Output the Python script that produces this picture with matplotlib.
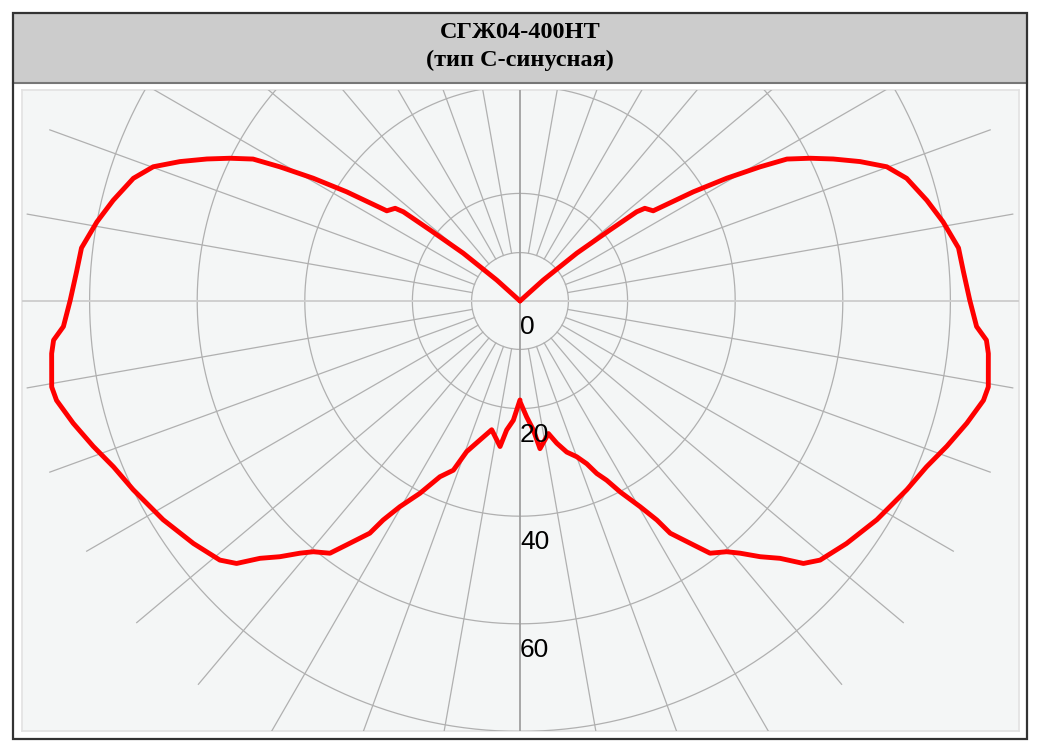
import numpy as np
import matplotlib
matplotlib.use("Agg")
import matplotlib.pyplot as plt
from matplotlib.patches import Rectangle
from matplotlib.lines import Line2D

# ---------------- data (angle from nadir in degrees, intensity) ----------------
title_line1 = "СГЖ04-400НТ"
title_line2 = "(тип С-синусная)"

left_angles = [0, 3.2, 5.9, 7.8, 12.4, 16.1, 19.5, 21.5, 24.5, 27.5, 30.3, 32.0, 32.9,
               35.4, 37.0, 39.5, 41.1, 43.2, 45.3, 47.2, 49.2, 53.4, 58.5, 64.0, 67.8,
               71.2, 74.7, 77.9, 79.6, 83.6, 85.2, 86.8, 90.1, 93.8, 96.9, 100.6, 103.9,
               107.6, 110.1, 112.3, 114.4, 116.2, 118.0, 119.2, 120.7, 122.2, 124.1,
               126.6, 127.4, 128.3, 130.1, 132.0, 135.0, 180.0]
left_values = [18.4, 22.2, 24.1, 27.3, 24.5, 26.9, 29.7, 33.8, 35.9, 40.3, 44.3, 48.0, 51.4,
               55.6, 58.7, 60.4, 62.2, 65.2, 68.0, 71.8, 73.7, 75.6, 77.8, 80.0, 81.6,
               83.8, 86.1, 88.1, 88.5, 87.6, 87.0, 85.0, 83.6, 82.6, 82.1, 80.0, 77.9,
               75.4, 72.6, 68.3, 63.9, 60.1, 56.2, 51.1, 44.7, 38.1, 29.9,
               28.9, 27.3, 21.3, 13.8, 5.8, 0.0, 0.0]

right_angles = [0, 3.3, 5.9, 7.7, 12.1, 14.5, 17.2, 20.0, 22.3, 24.0, 25.8, 27.7, 30.3, 32.0,
                32.9, 35.4, 37.0, 39.5, 41.1, 43.2, 45.3, 47.2, 49.2, 53.4, 58.5, 64.0,
                67.8, 71.2, 74.7, 77.9, 79.6, 83.6, 85.2, 86.8, 90.1, 93.8, 96.9, 100.6,
                103.9, 107.6, 110.1, 112.3, 114.4, 116.2, 118.0, 119.2, 120.7, 122.2,
                124.1, 126.6, 127.4, 128.3, 130.1, 132.0, 135.0, 180.0]
right_values = [18.7, 21.6, 24.1, 27.7, 25.2, 27.3, 29.4, 30.8, 32.7, 35.1, 37.0, 40.1, 44.3,
                48.0, 51.4, 55.6, 58.7, 60.4, 62.2, 65.2, 68.0, 71.8, 73.7, 75.6, 77.8, 80.0,
                81.6, 83.8, 86.1, 88.1, 88.5, 87.6, 87.0, 85.0, 83.6, 82.6, 82.1, 80.0,
                77.9, 75.4, 72.6, 68.3, 63.9, 60.1, 56.2, 51.1, 44.7, 38.1,
                29.9, 28.9, 27.3, 21.3, 13.8, 5.8, 0.0, 0.0]

ring_values = [20, 40, 60, 80]
ring_labels = ["0", "20", "40", "60"]
label_values = [0, 20, 40, 60]
inner_ring = 9
spoke_end = 93
spoke_step = 10

# ---------------- figure ----------------
W, H = 1040, 750
fig = plt.figure(figsize=(W / 100, H / 100), dpi=100)


def fx(px):
    return px / W


def fy(py):
    return 1 - py / H


# outer frame + title bar
fig.patches.append(Rectangle((fx(13), fy(739)), fx(1027) - fx(13), fy(13) - fy(739),
                             transform=fig.transFigure, facecolor="none",
                             edgecolor="#333333", lw=1.6, zorder=5))
fig.patches.append(Rectangle((fx(14), fy(82)), fx(1026) - fx(14), fy(14) - fy(82),
                             transform=fig.transFigure, facecolor="#cccccc",
                             edgecolor="none", zorder=1))
fig.lines.append(Line2D([fx(13), fx(1027)], [fy(83), fy(83)], transform=fig.transFigure,
                        color="#777777", lw=1.5, zorder=2))

fig.text(fx(520), fy(33), title_line1, ha="center", va="center", fontsize=17.5,
         fontweight="bold", family="Liberation Serif")
fig.text(fx(520), fy(60), title_line2, ha="center", va="center", fontsize=17.5,
         fontweight="bold", family="Liberation Serif")

# plot-area background
bg = fig.add_axes([fx(22), fy(731), fx(1019) - fx(22), fy(90) - fy(731)])
bg.set_facecolor("#f4f6f6")
bg.set_xticks([])
bg.set_yticks([])
for s in bg.spines.values():
    s.set_color("#e2e2e2")
    s.set_linewidth(1.2)

# polar axes centred at (520, 301) px, 5.38 px per unit
cx, cy = 520, 301
rmax = 100
R = 5.38 * rmax
pax = fig.add_axes([fx(cx - R), fy(cy + R), 2 * R / W, 2 * R / H], projection="polar")
pax.set_theta_zero_location("S")
pax.set_ylim(0, rmax)
pax.axis("off")

clip = bg.patch
grid_c = "#b0b0b0"
th = np.linspace(0, 2 * np.pi, 721)
for rv in ring_values + [inner_ring]:
    ln, = pax.plot(th, np.full_like(th, rv), color=grid_c, lw=0.9, zorder=1)
    ln.set_clip_path(clip)

for a in range(0, 360, spoke_step):
    if a in (0, 180):
        col, lw, r0 = "#a0a0a0", 1.3, 0
    elif a in (90, 270):
        col, lw, r0 = "#cdcdcd", 1.3, 0
    else:
        col, lw, r0 = grid_c, 0.9, inner_ring
    ln, = pax.plot([np.deg2rad(a)] * 2, [r0, spoke_end], color=col, lw=lw, zorder=1)
    ln.set_clip_path(clip)

for ang, val, sgn in ((right_angles, right_values, 1), (left_angles, left_values, -1)):
    ln, = pax.plot(sgn * np.deg2rad(ang), val, color="#ff0000", lw=3.5, zorder=3,
                   solid_joinstyle="round", solid_capstyle="round")
    ln.set_clip_path(clip)

for lab, v in zip(ring_labels, label_values):
    pax.annotate(lab, xy=(0, v), xytext=(0, -26), textcoords="offset pixels",
                 ha="left", va="center", fontsize=19, family="Liberation Sans",
                 color="black", zorder=4, annotation_clip=False)

fig.savefig("out.png", dpi=100)
